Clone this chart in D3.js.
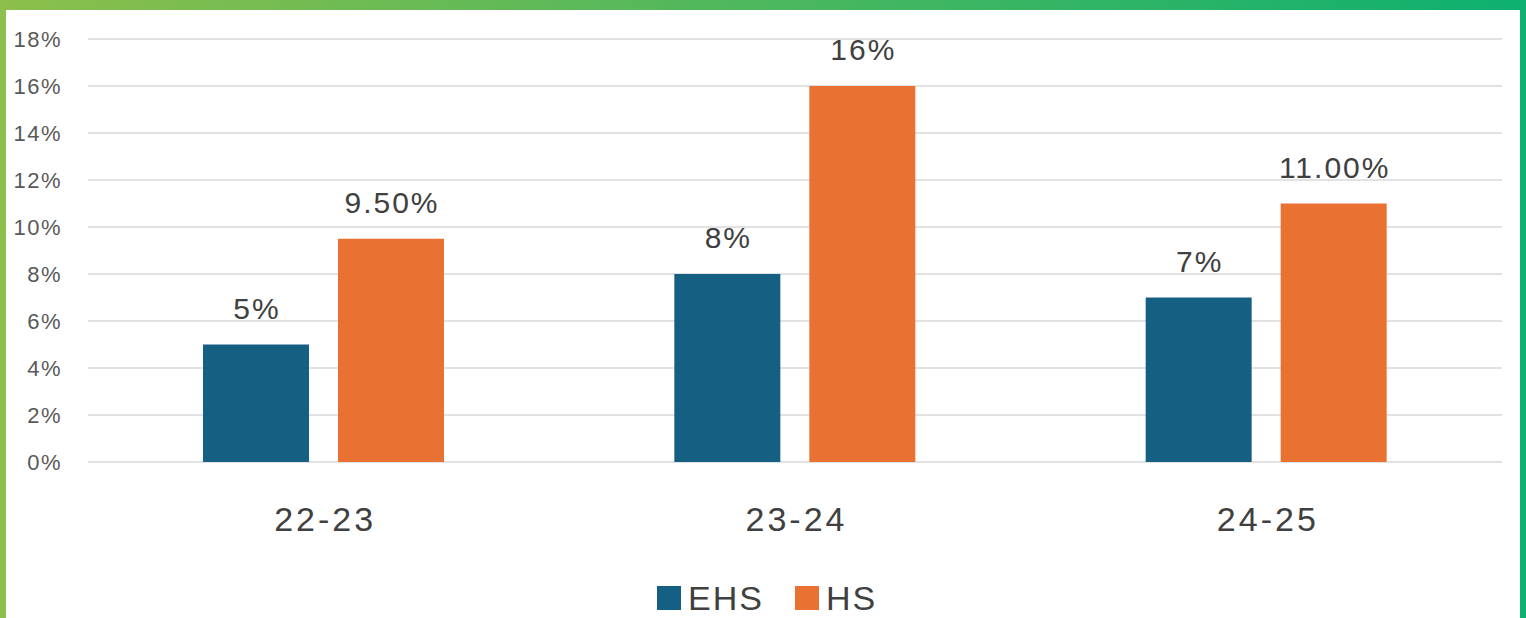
<!DOCTYPE html>
<html>
<head>
<script src="https://d3js.org/d3.v7.min.js"></script>
<style>
  body { margin: 0; background: #fff; }
  text { font-family: "Liberation Sans", Arial, sans-serif; }
</style>
</head>
<body>
<div class="chart"></div>
<script>
const categories = ["22-23", "23-24", "24-25"];
const series = ["EHS", "HS"];
const ehsValues = [5, 8, 7];
const hsValues = [9.5, 16, 11];
const ehsLabels = ["5%", "8%", "7%"];
const hsLabels = ["9.50%", "16%", "11.00%"];
const yTicks = [0, 2, 4, 6, 8, 10, 12, 14, 16, 18];

const width = 1526, height = 618;
const colors = { EHS: "#156082", HS: "#E97132" };

const svg = d3.select(".chart").append("svg")
  .attr("width", width).attr("height", height);

const grad = svg.append("defs").append("linearGradient")
  .attr("id", "frame").attr("x1", "0%").attr("x2", "100%");
grad.append("stop").attr("offset", "0%").attr("stop-color", "#8cbf4b");
grad.append("stop").attr("offset", "100%").attr("stop-color", "#0db070");

svg.append("rect").attr("width", width).attr("height", height).attr("fill", "url(#frame)");
svg.append("rect").attr("x", 6).attr("y", 10).attr("width", width - 12).attr("height", height - 10)
  .attr("fill", "#fff");

const plotLeft = 88, plotRight = 1502, plotTop = 39, plotBottom = 462;

const x = d3.scaleBand().domain(categories).range([plotLeft, plotRight]);
const x1 = d3.scaleBand().domain(series).range([115, 115 + 241]).paddingInner(29 / 135);
const y = d3.scaleLinear().domain([0, 18]).range([plotBottom, plotTop]);

// grid
svg.append("g")
  .selectAll("line").data(yTicks).join("line")
  .attr("x1", plotLeft).attr("x2", plotRight)
  .attr("y1", d => y(d)).attr("y2", d => y(d))
  .attr("stroke", "#d9d9d9").attr("stroke-width", 1.5);

// y axis labels
svg.append("g")
  .selectAll("text").data(yTicks).join("text")
  .attr("x", 62).attr("y", d => y(d))
  .attr("dy", "0.35em")
  .attr("text-anchor", "end")
  .attr("font-size", 22)
  .attr("letter-spacing", 1.5)
  .attr("fill", "#595959")
  .text(d => d + "%");

const rows = categories.map((c, i) => ({
  cat: c,
  vals: [
    { s: "EHS", v: ehsValues[i], label: ehsLabels[i] },
    { s: "HS", v: hsValues[i], label: hsLabels[i] }
  ]
}));

const groups = svg.append("g").selectAll("g").data(rows).join("g")
  .attr("transform", d => "translate(" + x(d.cat) + ",0)");

groups.selectAll("rect").data(d => d.vals).join("rect")
  .attr("x", d => x1(d.s))
  .attr("width", x1.bandwidth())
  .attr("y", d => y(d.v))
  .attr("height", d => y(0) - y(d.v))
  .attr("fill", d => colors[d.s]);

groups.selectAll("text.val").data(d => d.vals).join("text")
  .attr("class", "val")
  .attr("x", d => x1(d.s) + x1.bandwidth() / 2 + 1)
  .attr("y", d => y(d.v) - 26)
  .attr("text-anchor", "middle")
  .attr("font-size", 30)
  .attr("letter-spacing", 2)
  .attr("fill", "#404040")
  .text(d => d.label);

// category labels
svg.append("g").selectAll("text").data(categories).join("text")
  .attr("x", d => x(d) + x.bandwidth() / 2 + 1.5)
  .attr("y", 531)
  .attr("text-anchor", "middle")
  .attr("font-size", 34)
  .attr("letter-spacing", 3)
  .attr("fill", "#404040")
  .text(d => d);

// legend
const legend = svg.append("g");
const legendItems = [{ s: "EHS", x: 657 }, { s: "HS", x: 795 }];
legend.selectAll("rect").data(legendItems).join("rect")
  .attr("x", d => d.x).attr("y", 586)
  .attr("width", 24).attr("height", 24)
  .attr("fill", d => colors[d.s]);
legend.selectAll("text").data(legendItems).join("text")
  .attr("x", d => d.x + 31).attr("y", 610)
  .attr("font-size", 34)
  .attr("letter-spacing", 2)
  .attr("fill", "#404040")
  .text(d => d.s);
</script>
</body>
</html>
